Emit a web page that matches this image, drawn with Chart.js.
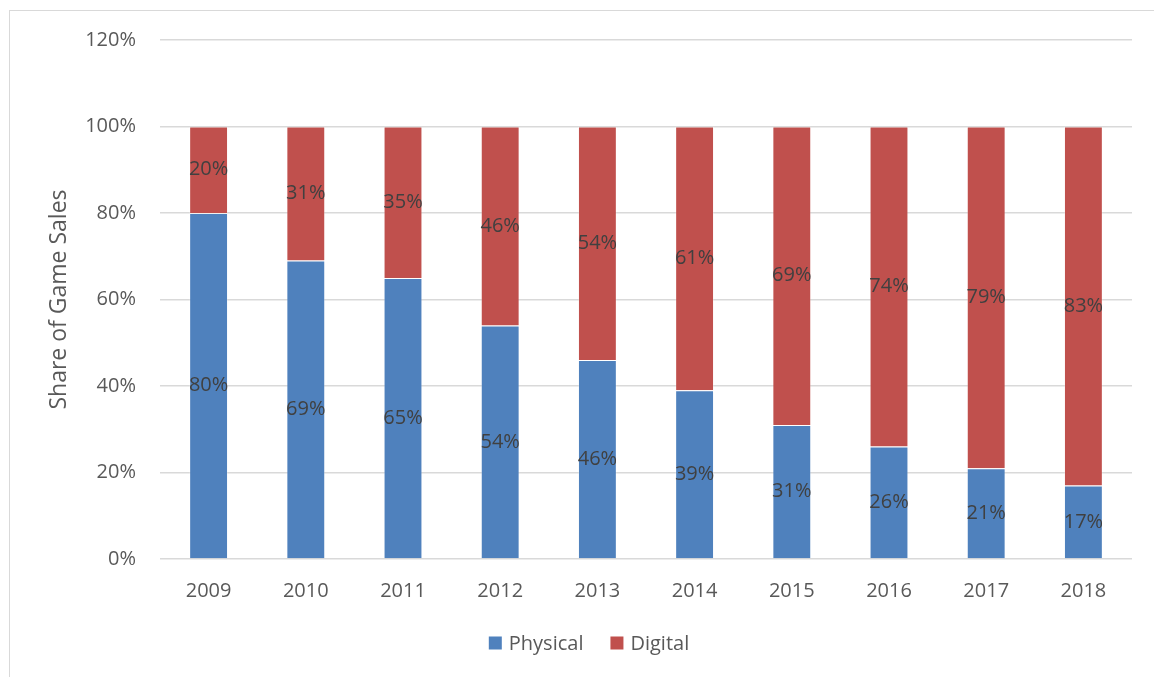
<!DOCTYPE html>
<html>
<head>
<meta charset="utf-8">
<script src="https://cdn.jsdelivr.net/npm/chart.js@4/dist/chart.umd.min.js"></script>
<style>
  html, body { margin: 0; padding: 0; background: #ffffff; overflow: hidden; }
  #wrap { position: relative; width: 1154px; height: 677px; }
  #frame { position: absolute; left: 9px; top: 10px; width: 1200px; height: 700px; border: 1px solid #d9d9d9; box-sizing: border-box; pointer-events: none; }
  canvas { position: absolute; left: 0; top: 0; }
</style>
</head>
<body>
<div id="wrap">
  <canvas id="c" width="1154" height="677"></canvas>
  <div id="frame"></div>
</div>
<script>
const years = ['2009','2010','2011','2012','2013','2014','2015','2016','2017','2018'];
const physical = [80, 69, 65, 54, 46, 39, 31, 26, 21, 17];
const digital = [20, 31, 35, 46, 54, 61, 69, 74, 79, 83];
const yTicks = [0, 20, 40, 60, 80, 100, 120];
const seriesNames = ['Physical', 'Digital'];
const yTitle = 'Share of Game Sales';

const FONT = '"Open Sans", "Noto Sans", sans-serif';

const valueLabels = {
  id: 'valueLabels',
  afterDatasetsDraw(chart) {
    const ctx = chart.ctx;
    ctx.save();
    ctx.font = '20px ' + FONT;
    ctx.fillStyle = '#404040';
    ctx.textAlign = 'center';
    ctx.textBaseline = 'middle';
    chart.data.datasets.forEach((ds, di) => {
      const meta = chart.getDatasetMeta(di);
      meta.data.forEach((el, i) => {
        const p = el.getCenterPoint();
        ctx.fillText(ds.data[i] + '%', p.x, p.y);
      });
    });
    ctx.restore();
  }
};

// Bottom legend drawn like the original (box, gap, text, wider gap between items)
const bottomLegend = {
  id: 'bottomLegend',
  afterDraw(chart) {
    const ctx = chart.ctx;
    ctx.save();
    ctx.font = '20px ' + FONT;
    ctx.textBaseline = 'middle';
    ctx.textAlign = 'left';
    const box = 13, gapText = 7, gapItem = 27;
    const items = chart.data.datasets.map(ds => ({ label: ds.label, color: ds.backgroundColor, w: ctx.measureText(ds.label).width }));
    let total = 0;
    items.forEach((it, i) => { total += box + gapText + it.w + (i < items.length - 1 ? gapItem : 0); });
    const cx = chart.width / 2 + 12;
    const cy = chart.chartArea.bottom + 84;
    let x = cx - total / 2;
    items.forEach(it => {
      ctx.fillStyle = it.color;
      ctx.fillRect(x, cy - box / 2, box, box);
      ctx.fillStyle = '#595959';
      ctx.fillText(it.label, x + box + gapText, cy + 1);
      x += box + gapText + it.w + gapItem;
    });
    ctx.restore();
  }
};

new Chart(document.getElementById('c'), {
  type: 'bar',
  data: {
    labels: years,
    datasets: [
      { label: seriesNames[0], data: physical, backgroundColor: '#4F81BD', borderColor: 'rgba(255,255,255,0.25)', borderWidth: 1, categoryPercentage: 1.0, barPercentage: 0.4 },
      { label: seriesNames[1], data: digital, backgroundColor: '#C0504D', borderColor: 'rgba(255,255,255,0.25)', borderWidth: 1, categoryPercentage: 1.0, barPercentage: 0.4 }
    ]
  },
  options: {
    responsive: false,
    animation: false,
    devicePixelRatio: 1,
    layout: { padding: { top: 40, right: 22, left: 0, bottom: 54 } },
    plugins: {
      legend: { display: false },
      tooltip: { enabled: false }
    },
    scales: {
      x: {
        stacked: true,
        grid: { display: false, drawTicks: false },
        border: { display: false },
        ticks: { font: { family: FONT, size: 20 }, color: '#595959', padding: 20 },
        afterFit(s) { s.height = 64; }
      },
      y: {
        stacked: true,
        min: 0,
        max: 120,
        afterBuildTicks(s) { s.ticks = yTicks.map(v => ({ value: v })); },
        grid: { color: '#d9d9d9', lineWidth: 1.5, drawTicks: false },
        border: { display: false },
        ticks: {
          font: { family: FONT, size: 20 },
          color: '#595959',
          padding: 24,
          callback: v => v + '%'
        },
        title: {
          display: true,
          text: yTitle,
          font: { family: FONT, size: 23 },
          color: '#595959',
          padding: { top: 46, bottom: 0 }
        },
        afterFit(s) { s.width = 160; }
      }
    }
  },
  plugins: [valueLabels, bottomLegend]
});
</script>
</body>
</html>
